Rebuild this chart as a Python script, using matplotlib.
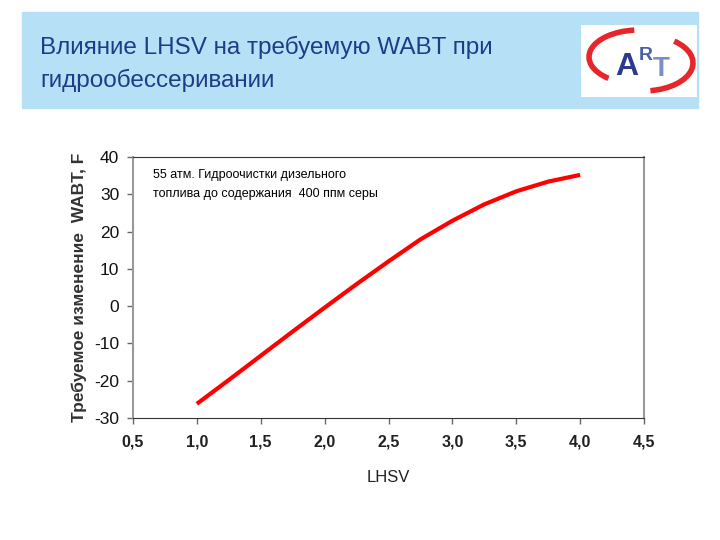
import matplotlib.pyplot as plt
from matplotlib.patches import Rectangle, Arc

plt.rcParams['font.family'] = ['Liberation Sans', 'DejaVu Sans']

lhsv = [1.0, 1.25, 1.5, 1.75, 2.0, 2.25, 2.5, 2.75, 3.0, 3.25, 3.5, 3.75, 4.0]
dwabt = [-26.2, -19.8, -13.3, -6.8, -0.4, 5.9, 12.0, 17.9, 22.9, 27.3, 30.8, 33.4, 35.2]
xticks = [0.5, 1.0, 1.5, 2.0, 2.5, 3.0, 3.5, 4.0, 4.5]
yticks = [-30, -20, -10, 0, 10, 20, 30, 40]

fig = plt.figure(figsize=(7.2, 5.4), dpi=100)
W, H = 720, 540

# header band
fig.add_artist(Rectangle((22 / W, 1 - 108 / H), 676 / W, 96 / H,
                         transform=fig.transFigure, color='#b6e0f6', zorder=-5))
fig.text(40 / W, 1 - 47 / H, 'Влияние LHSV на требуемую WABT при',
         fontsize=17.5, color='#1f3c88', va='center', ha='left')
fig.text(40 / W, 1 - 80 / H, 'гидрообессеривании',
         fontsize=17.5, color='#1f3c88', va='center', ha='left')

# logo
lax = fig.add_axes([581 / W, 1 - 97 / H, 116 / W, 72 / H], zorder=5)
lax.set_xlim(0, 116)
lax.set_ylim(0, 72)
lax.axis('off')
lax.add_patch(Rectangle((0, 0), 116, 72, color='white'))
lax.add_patch(Arc((58, 40), 100, 54, theta1=100, theta2=215, color='#e8262a', lw=4))
lax.add_patch(Arc((62, 34), 100, 56, theta1=285, theta2=35, color='#e8262a', lw=4))
lax.text(46, 30, 'A', fontsize=23, color='#2b3a8c', fontweight='bold', ha='center', va='center')
lax.text(65, 42, 'R', fontsize=14, color='#4a5fa8', fontweight='bold', ha='center', va='center')
lax.text(80, 28, 'T', fontsize=20, color='#7b8fc6', fontweight='bold', ha='center', va='center')

# chart
ax = fig.add_axes([133 / W, 1 - 418 / H, 511 / W, 261 / H])
ax.plot(lhsv, dwabt, color='#ff0000', lw=3, solid_capstyle='butt')
ax.set_xlim(0.5, 4.5)
ax.set_ylim(-30, 40)
ax.set_xticks(xticks)
ax.set_xticklabels([f'{v:.1f}'.replace('.', ',') for v in xticks],
                   fontsize=11.5, fontweight='bold', color='#222222')
ax.set_yticks(yticks)
ax.set_yticklabels([str(v) for v in yticks], fontsize=12.5, color='#111111')
ax.tick_params(direction='out', length=4, width=1, color='#666666', pad=6)
ax.tick_params(axis='x', pad=8)
for s in ['left', 'right']:
    ax.spines[s].set_color('#999999')
    ax.spines[s].set_linewidth(1.5)
for s in ['top', 'bottom']:
    ax.spines[s].set_color('#333333')
ax.set_xlabel('LHSV', fontsize=12, labelpad=15, color='#222222')
ax.set_ylabel('Требуемое изменение  WABT, F', fontsize=12.5, fontweight='bold',
              color='#333333', labelpad=5)
ax.text(0.66, 35.2, '55 атм. Гидроочистки дизельного', fontsize=9, va='center')
ax.text(0.66, 30.1, 'топлива до содержания  400 ппм серы', fontsize=9, va='center')

fig.savefig('out.png', dpi=100)
